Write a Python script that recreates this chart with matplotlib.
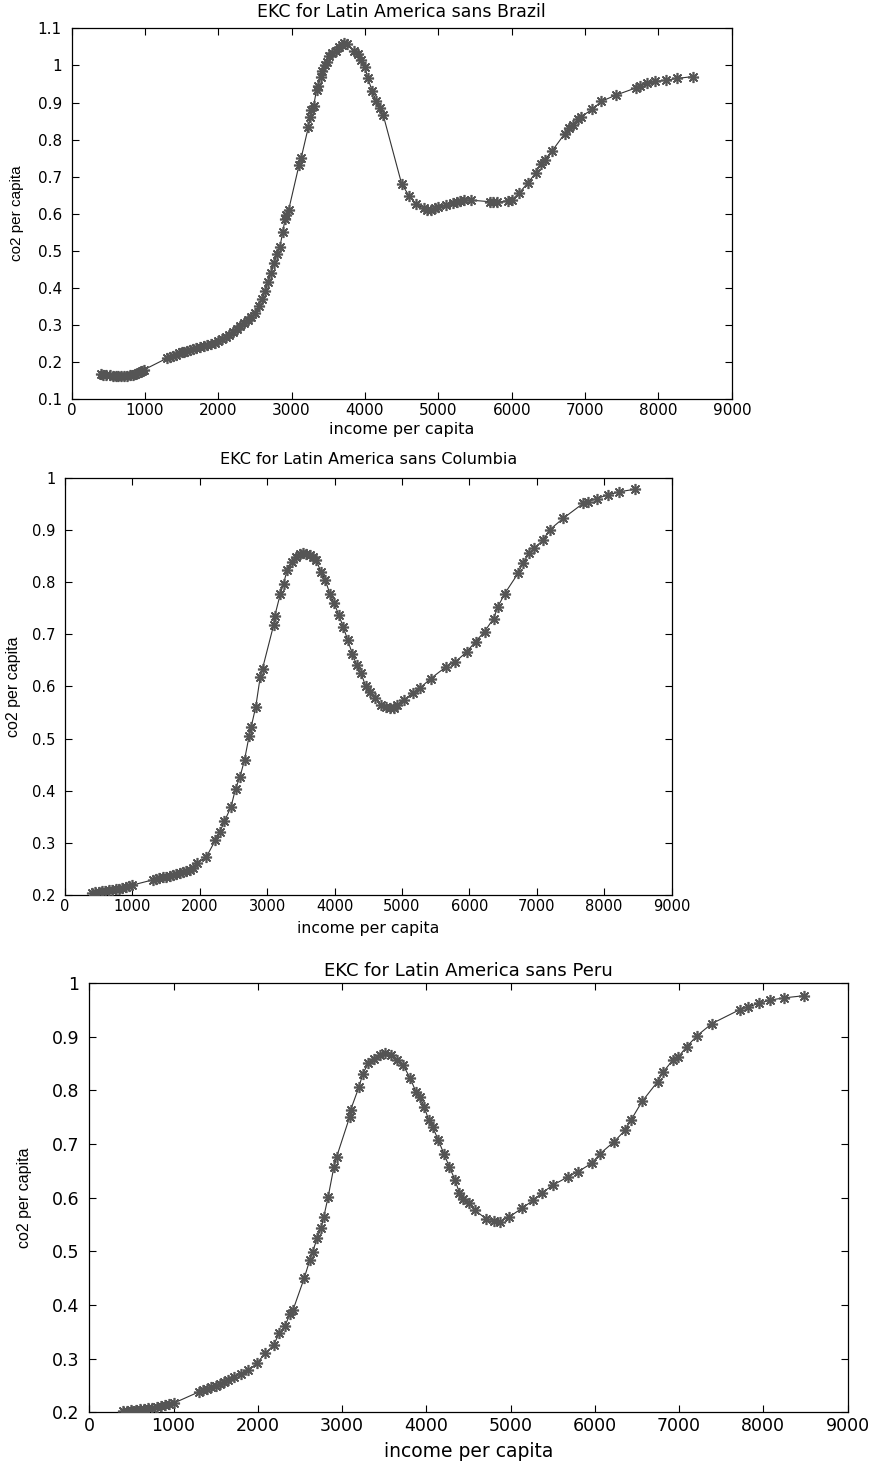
import numpy as np
import matplotlib
matplotlib.use('Agg')
import matplotlib.pyplot as plt
from matplotlib.ticker import FuncFormatter

plt.rcParams['font.family'] = 'DejaVu Sans'

# EKC without Brazil
brazil_x = [400, 430, 470, 520, 560, 600, 640, 680, 720, 760, 800, 840, 870, 900, 930, 960, 990,
            1300, 1340, 1380, 1420, 1460, 1500, 1540, 1580, 1620, 1660, 1700, 1750, 1800, 1850, 1900, 1950, 2000,
            2050, 2100, 2150, 2200, 2250, 2300, 2350, 2400, 2450, 2500,
            2550, 2600, 2640, 2680, 2720, 2760, 2800, 2840, 2880, 2910, 2930, 2960,
            3100, 3130, 3230, 3250, 3270, 3300, 3340, 3360, 3400, 3420, 3450, 3480, 3510, 3550, 3600, 3640,
            3680, 3720, 3750, 3850, 3900, 3950, 4000, 4040, 4100, 4150, 4200, 4250,
            4500, 4600, 4700, 4800, 4850, 4900, 4950, 5000, 5100, 5200, 5250, 5300, 5350, 5450,
            5700, 5750, 5800, 5950, 6000, 6100, 6220, 6330, 6400, 6450, 6550, 6720, 6780, 6830,
            6900, 6950, 7100, 7220, 7420, 7700, 7750, 7850, 7950, 8100, 8250, 8470]
brazil_y = [0.166, 0.165, 0.164, 0.163, 0.162, 0.161, 0.161, 0.161, 0.161, 0.162, 0.163, 0.165, 0.167, 0.169, 0.172, 0.175, 0.178,
            0.209, 0.213, 0.216, 0.219, 0.222, 0.225, 0.227, 0.229, 0.231, 0.234, 0.236, 0.238, 0.241, 0.244, 0.248, 0.251, 0.256,
            0.260, 0.265, 0.271, 0.279, 0.288, 0.296, 0.304, 0.312, 0.320, 0.330,
            0.350, 0.370, 0.390, 0.415, 0.440, 0.465, 0.490, 0.510, 0.550, 0.585, 0.595, 0.610,
            0.730, 0.750, 0.835, 0.860, 0.880, 0.890, 0.935, 0.945, 0.970, 0.985, 1.000, 1.010, 1.025, 1.035, 1.040, 1.050,
            1.055, 1.060, 1.058, 1.040, 1.030, 1.015, 0.995, 0.965, 0.930, 0.905, 0.885, 0.865,
            0.680, 0.648, 0.625, 0.615, 0.610, 0.610, 0.614, 0.617, 0.622, 0.628, 0.632, 0.635, 0.636, 0.636,
            0.632, 0.630, 0.630, 0.635, 0.637, 0.655, 0.683, 0.710, 0.735, 0.745, 0.769, 0.815, 0.830, 0.840,
            0.855, 0.862, 0.882, 0.903, 0.920, 0.940, 0.945, 0.952, 0.957, 0.960, 0.965, 0.970]

# EKC without Columbia
columbia_x = [400, 450, 500, 550, 600, 650, 700, 750, 800, 850, 900, 950, 1000,
              1300, 1350, 1400, 1450, 1500, 1550, 1600, 1650, 1700, 1750, 1800, 1850, 1900, 1964,
              2097, 2230, 2297, 2364, 2463, 2530, 2597, 2663, 2730, 2763, 2830, 2896, 2930,
              3096, 3110, 3196, 3242, 3296, 3362, 3429, 3480, 3529, 3580, 3628, 3680, 3728, 3795, 3862, 3928,
              3995, 4061, 4128, 4194, 4261, 4328, 4394, 4461, 4527, 4594, 4694, 4760, 4827, 4880, 4927,
              5027, 5160, 5260, 5426, 5659, 5792, 5959, 6092, 6225, 6358, 6425, 6525, 6724, 6791,
              6891, 6958, 7091, 7190, 7390, 7690, 7756, 7889, 8056, 8222, 8455]
columbia_y = [0.204, 0.205, 0.206, 0.207, 0.208, 0.209, 0.210, 0.211, 0.212, 0.214, 0.215, 0.217, 0.219,
              0.229, 0.231, 0.232, 0.234, 0.235, 0.237, 0.238, 0.240, 0.242, 0.244, 0.246, 0.248, 0.251, 0.261,
              0.273, 0.305, 0.321, 0.341, 0.369, 0.404, 0.427, 0.459, 0.504, 0.523, 0.561, 0.618, 0.634,
              0.718, 0.734, 0.778, 0.797, 0.823, 0.839, 0.849, 0.853, 0.855, 0.854, 0.852, 0.848, 0.842, 0.820, 0.804, 0.778,
              0.759, 0.737, 0.714, 0.689, 0.663, 0.641, 0.625, 0.600, 0.590, 0.577, 0.564, 0.560, 0.558, 0.559, 0.564,
              0.574, 0.587, 0.596, 0.615, 0.638, 0.647, 0.666, 0.686, 0.705, 0.730, 0.753, 0.778, 0.817, 0.836,
              0.855, 0.865, 0.880, 0.900, 0.922, 0.951, 0.954, 0.960, 0.967, 0.973, 0.978]

# EKC without Peru
peru_x = [398, 450, 500, 550, 600, 650, 700, 750, 800, 850, 900, 950, 1000,
          1300, 1350, 1400, 1450, 1500, 1550, 1600, 1650, 1723, 1800, 1889, 1988, 2087, 2187, 2253, 2319,
          2386, 2419, 2551, 2618, 2651, 2704, 2750, 2783, 2836, 2903, 2936,
          3090, 3101, 3201, 3247, 3313, 3380, 3446, 3512, 3579, 3658, 3724, 3810, 3877, 3923, 3976,
          4029, 4075, 4142, 4208, 4274, 4341, 4394, 4440, 4506, 4573, 4705, 4805, 4871, 4983,
          5136, 5268, 5368, 5500, 5686, 5799, 5964, 6064, 6229, 6362, 6428, 6561, 6746, 6812,
          6925, 6991, 7091, 7210, 7389, 7720, 7820, 7952, 8085, 8250, 8482]
peru_y = [0.202, 0.203, 0.204, 0.205, 0.206, 0.207, 0.208, 0.209, 0.210, 0.212, 0.213, 0.215, 0.217,
          0.238, 0.241, 0.244, 0.247, 0.250, 0.253, 0.256, 0.260, 0.266, 0.272, 0.279, 0.291, 0.310, 0.325, 0.347, 0.360,
          0.384, 0.391, 0.450, 0.484, 0.499, 0.524, 0.543, 0.564, 0.602, 0.657, 0.676,
          0.750, 0.763, 0.806, 0.831, 0.850, 0.859, 0.866, 0.869, 0.866, 0.856, 0.847, 0.822, 0.797, 0.788, 0.769,
          0.744, 0.732, 0.707, 0.682, 0.657, 0.633, 0.608, 0.598, 0.589, 0.577, 0.561, 0.557, 0.555, 0.564,
          0.580, 0.595, 0.608, 0.623, 0.639, 0.648, 0.664, 0.682, 0.704, 0.726, 0.744, 0.779, 0.816, 0.834,
          0.856, 0.862, 0.881, 0.901, 0.924, 0.950, 0.955, 0.962, 0.968, 0.972, 0.976]

titles = ['EKC for Latin America sans Brazil',
          'EKC for Latin America sans Columbia',
          'EKC for Latin America sans Peru']
xticks = [0, 1000, 2000, 3000, 4000, 5000, 6000, 7000, 8000, 9000]
yticks1 = [0.1, 0.2, 0.3, 0.4, 0.5, 0.6, 0.7, 0.8, 0.9, 1.0, 1.1]
yticks23 = [0.2, 0.3, 0.4, 0.5, 0.6, 0.7, 0.8, 0.9, 1.0]

fig = plt.figure(figsize=(8.71, 14.61), dpi=100)

# rects in figure fractions, taken from the reference pixel layout
panels = [
    dict(rect=[0.0821, 0.7272, 0.7581, 0.2533], x=brazil_x, y=brazil_y, ylim=(0.1, 1.1), yt=yticks1,
         fs=11, tfs=12.5, lfs=11.5, yfs=11, tpad=8, ylx=-0.082, xly=-0.062),
    dict(rect=[0.0747, 0.3874, 0.6963, 0.2856], x=columbia_x, y=columbia_y, ylim=(0.2, 1.0), yt=yticks23,
         fs=10.5, tfs=11.5, lfs=11.3, yfs=11.5, tpad=10, ylx=-0.085, xly=-0.062),
    dict(rect=[0.1025, 0.0333, 0.8706, 0.2940], x=peru_x, y=peru_y, ylim=(0.2, 1.0), yt=yticks23,
         fs=12.5, tfs=13, lfs=13.5, yfs=11.5, tpad=5, ylx=-0.086, xly=-0.07),
]

fmt = FuncFormatter(lambda v, p: f'{v:g}')

for i, p in enumerate(panels):
    ax = fig.add_axes(p['rect'])
    ax.plot(p['x'], p['y'], '-', color='#333333', lw=0.8, zorder=2)
    ax.plot(p['x'], p['y'], ls='none', marker=(8, 2, 0), ms=8, mew=1.2,
            mec='#555555', color='#555555', zorder=3)
    ax.set_xlim(0, 9000)
    ax.set_ylim(*p['ylim'])
    ax.set_xticks(xticks)
    ax.set_yticks(p['yt'])
    ax.xaxis.set_major_formatter(fmt)
    ax.yaxis.set_major_formatter(fmt)
    ax.tick_params(direction='in', length=5, width=0.8, top=True, right=True,
                   labelsize=p['fs'], colors='black')
    ax.tick_params(axis='x', pad=3)
    ax.tick_params(axis='y', pad=7)
    for s in ax.spines.values():
        s.set_linewidth(0.9)
    ax.set_title(titles[i], fontsize=p['tfs'], pad=p['tpad'])
    ax.set_xlabel('income per capita', fontsize=p['lfs'], va='top')
    ax.xaxis.set_label_coords(0.5, p['xly'])
    ax.set_ylabel('co2 per capita', fontsize=p['yfs'], family='Liberation Sans', va='center')
    ax.yaxis.set_label_coords(p['ylx'], 0.5)

fig.savefig('out.png', dpi=100)
